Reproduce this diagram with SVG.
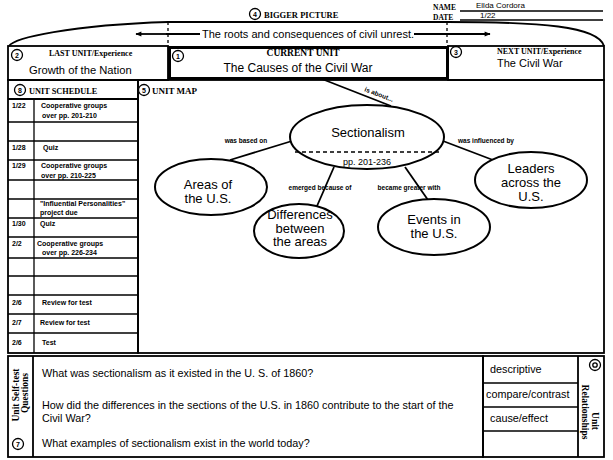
<svg xmlns="http://www.w3.org/2000/svg" width="613" height="460" viewBox="0 0 613 460">
<defs>
<marker id="ah" viewBox="0 0 10 10" refX="9" refY="5" markerWidth="9" markerHeight="6" orient="auto-start-reverse" markerUnits="userSpaceOnUse"><path d="M0,1 L10,5 L0,9 z" fill="#000"/></marker>
</defs>
<style>
.hd{font-family:"Liberation Serif",serif;font-weight:bold;fill:#000}
.hw{font-family:"Liberation Sans",sans-serif;fill:#000}
.box{fill:none;stroke:#000;stroke-width:1.8}
.thin{stroke:#000;stroke-width:1.3;fill:none}
.num circle{fill:#fff;stroke:#000;stroke-width:1.3}
.num text{font-family:"Liberation Sans",sans-serif;font-size:7px;font-weight:bold;text-anchor:middle;fill:#000}
.ell{fill:#fff;stroke:#000;stroke-width:2}
.con{stroke:#000;stroke-width:1.8;fill:none}
.lbl{font-family:"Liberation Sans",sans-serif;font-size:6.5px;font-weight:bold;fill:#000}
.sch{font-family:"Liberation Sans",sans-serif;font-size:7px;font-weight:bold;fill:#000}
.nt{font-family:"Liberation Sans",sans-serif;font-size:13px;text-anchor:middle;fill:#000}
.q{font-family:"Liberation Sans",sans-serif;font-size:10.8px;fill:#000}
</style>
<rect width="613" height="460" fill="#fff"/>

<g id="name-date">
<text x="433" y="10" class="hd" font-size="7.5">NAME</text>
<line x1="460" y1="11" x2="603" y2="11" class="thin" stroke-width="1"/>
<text x="476" y="8" class="hw" font-size="8">Ellda Cordora</text>
<text x="433" y="20" class="hd" font-size="7.5">DATE</text>
<line x1="460" y1="20" x2="603" y2="20" class="thin" stroke-width="1"/>
<text x="480" y="18" class="hw" font-size="8">1/22</text>
</g>

<g id="bigger-picture">
<g class="num"><circle cx="255" cy="14" r="5.5"/><text x="255" y="16.5">4</text></g>
<text x="264" y="17.5" class="hd" font-size="8.5">BIGGER PICTURE</text>
<path d="M9,46 C14,38 70,25 168,22 L447,22 C540,22 598,26 604,46" class="box"/>
<line x1="168" y1="22" x2="168" y2="46" class="thin" stroke-dasharray="3,3"/>
<line x1="447" y1="22" x2="447" y2="46" class="thin" stroke-dasharray="3,3"/>
<text x="308" y="38" class="hw" font-size="11" text-anchor="middle">The roots and consequences of civil unrest.</text>
</g>

<g id="last-unit">
<rect x="8" y="46" width="160" height="34" class="box"/>
<g class="num"><circle cx="17" cy="55" r="5.5"/><text x="17" y="57.5">2</text></g>
<text x="49" y="56" class="hd" font-size="8">LAST UNIT/Experience</text>
<text x="29" y="74" class="hw" font-size="11.2">Growth of the Nation</text>
</g>

<g id="current-unit">
<rect x="169.5" y="47.5" width="278" height="31" fill="none" stroke="#000" stroke-width="3"/>
<g class="num"><circle cx="178" cy="56" r="5.5"/><text x="178" y="58.5">1</text></g>
<text x="303" y="56" class="hd" font-size="9.5" text-anchor="middle">CURRENT UNIT</text>
<text x="298" y="72" class="hw" font-size="12" text-anchor="middle">The Causes of the Civil War</text>
</g>

<g id="next-unit">
<rect x="448" y="46" width="156" height="34" class="box"/>
<g class="num"><circle cx="456" cy="52" r="5.5"/><text x="456" y="54.5">3</text></g>
<text x="497" y="54" class="hd" font-size="8">NEXT UNIT/Experience</text>
<text x="497" y="67" class="hw" font-size="11">The Civil War</text>
</g>

<g id="unit-schedule">
<rect x="8" y="80" width="130" height="273" class="box"/>
<g class="num"><circle cx="20" cy="90" r="5.5"/><text x="20" y="92.5">8</text></g>
<text x="29" y="94" class="hd" font-size="8.3">UNIT SCHEDULE</text>
<line x1="8" y1="99" x2="138" y2="99" class="box"/>
<line x1="34" y1="99" x2="34" y2="353" class="thin"/>
<g class="thin">
<line x1="8" y1="122" x2="138" y2="122"/>
<line x1="8" y1="141" x2="138" y2="141"/>
<line x1="8" y1="160" x2="138" y2="160"/>
<line x1="8" y1="180" x2="138" y2="180"/>
<line x1="8" y1="199" x2="138" y2="199"/>
<line x1="8" y1="218" x2="138" y2="218"/>
<line x1="8" y1="237" x2="138" y2="237"/>
<line x1="8" y1="258" x2="138" y2="258"/>
<line x1="8" y1="276" x2="138" y2="276"/>
<line x1="8" y1="295" x2="138" y2="295"/>
<line x1="8" y1="314" x2="138" y2="314"/>
<line x1="8" y1="333" x2="138" y2="333"/>
</g>
<text x="12" y="108" class="sch">1/22</text>
<text x="41" y="108" class="sch">Cooperative groups</text>
<text x="42" y="118" class="sch">over pp. 201-210</text>
<text x="12" y="150" class="sch">1/28</text>
<text x="43" y="150" class="sch">Quiz</text>
<text x="12" y="168" class="sch">1/29</text>
<text x="41" y="168" class="sch">Cooperative groups</text>
<text x="41" y="178" class="sch">over pp. 210-225</text>
<text x="40" y="206" class="sch">"Influential Personalities"</text>
<text x="40" y="215" class="sch">project due</text>
<text x="12" y="226" class="sch">1/30</text>
<text x="40" y="226" class="sch">Quiz</text>
<text x="12" y="246" class="sch">2/2</text>
<text x="37" y="246" class="sch">Cooperative groups</text>
<text x="42" y="255" class="sch">over pp. 226-234</text>
<text x="12" y="305" class="sch">2/6</text>
<text x="42" y="305" class="sch">Review for test</text>
<text x="12" y="325" class="sch">2/7</text>
<text x="40" y="325" class="sch">Review for test</text>
<text x="12" y="345" class="sch">2/6</text>
<text x="42" y="345" class="sch">Test</text>
</g>

<g id="unit-map">
<rect x="138" y="80" width="466" height="273" class="box"/>
<g class="num"><circle cx="144" cy="90" r="5.5"/><text x="144" y="92.5">5</text></g>
<text x="152" y="94" class="hd" font-size="9">UNIT MAP</text>
</g>

<g id="connectors">
<line x1="166" y1="34" x2="136" y2="34" class="con" stroke-width="1.4" marker-end="url(#ah)"/>
<line x1="166" y1="34" x2="200" y2="34" class="con" stroke-width="1.4"/>
<line x1="414" y1="34" x2="490" y2="34" class="con" stroke-width="1.4" marker-end="url(#ah)"/>
<line x1="322" y1="79" x2="391" y2="106" class="con"/>
<line x1="292" y1="141" x2="230" y2="160" class="con"/>
<line x1="334" y1="167" x2="317" y2="206" class="con"/>
<line x1="405" y1="167" x2="428" y2="200" class="con"/>
<line x1="443" y1="141" x2="493" y2="160" class="con"/>
<text x="0" y="0" class="lbl" transform="translate(364,91) rotate(21)">is about...</text>
<text x="246" y="143" class="lbl" text-anchor="middle">was based on</text>
<text x="320" y="190" class="lbl" text-anchor="middle">emerged because of</text>
<text x="409" y="190" class="lbl" text-anchor="middle">became greater with</text>
<text x="486" y="143" class="lbl" text-anchor="middle">was influenced by</text>
</g>

<g id="node-sectionalism">
<ellipse cx="367" cy="137" rx="77" ry="32" class="ell"/>
<line x1="295" y1="152" x2="439" y2="152" stroke="#000" stroke-width="1.5" stroke-dasharray="4,3"/>
<text x="368" y="137" class="nt" font-size="14.5">Sectionalism</text>
<text x="367" y="165" class="hw" font-size="9" text-anchor="middle">pp. 201-236</text>
</g>
<g id="node-areas">
<ellipse cx="211" cy="187" rx="56" ry="28" class="ell"/>
<text x="208" y="189" class="nt">Areas of</text>
<text x="208" y="203" class="nt">the U.S.</text>
</g>
<g id="node-differences">
<ellipse cx="299" cy="231" rx="45" ry="27" class="ell"/>
<text x="300" y="219" class="nt" font-size="11.5">Differences</text>
<text x="300" y="232.5" class="nt" font-size="11.5">between</text>
<text x="300" y="246" class="nt" font-size="11.5">the areas</text>
</g>
<g id="node-events">
<ellipse cx="434" cy="227" rx="56" ry="28" class="ell"/>
<text x="434" y="224" class="nt">Events in</text>
<text x="434" y="238" class="nt">the U.S.</text>
</g>
<g id="node-leaders">
<ellipse cx="531" cy="180" rx="56" ry="28" class="ell"/>
<text x="531" y="173" class="nt">Leaders</text>
<text x="531" y="187" class="nt">across the</text>
<text x="531" y="201" class="nt">U.S.</text>
</g>

<g id="self-test-questions">
<rect x="8" y="356" width="475" height="101" class="box"/>
<line x1="33" y1="356" x2="33" y2="457" class="box"/>
<text class="hd" font-size="9.5" text-anchor="middle" transform="translate(19,395) rotate(-90)">Unit Self-test</text>
<text class="hd" font-size="9.5" text-anchor="middle" transform="translate(28,393) rotate(-90)">Questions</text>
<g class="num"><circle cx="18" cy="444" r="5.5"/><text x="18" y="446.5">7</text></g>
<text x="42" y="377" class="q">What was sectionalism as it existed in the U. S.  of 1860?</text>
<text x="42" y="409" class="q">How did the differences in the sections of the U.S. in 1860 contribute to the start of the</text>
<text x="42" y="422" class="q">Civil War?</text>
<text x="42" y="447" class="q">What examples of sectionalism exist in the world today?</text>
</g>

<g id="unit-relationships">
<rect x="483" y="356" width="121" height="101" class="box"/>
<line x1="578" y1="356" x2="578" y2="457" class="box"/>
<line x1="483" y1="383" x2="578" y2="383" class="thin"/>
<line x1="483" y1="407" x2="578" y2="407" class="thin"/>
<line x1="483" y1="431" x2="578" y2="431" class="thin"/>
<text x="490" y="373" class="q">descriptive</text>
<text x="486" y="398" class="q">compare/contrast</text>
<text x="490" y="422" class="q">cause/effect</text>
<g class="num"><circle cx="595" cy="365" r="5.5"/><circle cx="595" cy="365" r="2.2" fill="#000"/></g>
<text class="hd" font-size="9.5" text-anchor="middle" transform="translate(592,421) rotate(90)">Unit</text>
<text class="hd" font-size="9.5" text-anchor="middle" transform="translate(582,412) rotate(90)">Relationships</text>
</g>
</svg>
